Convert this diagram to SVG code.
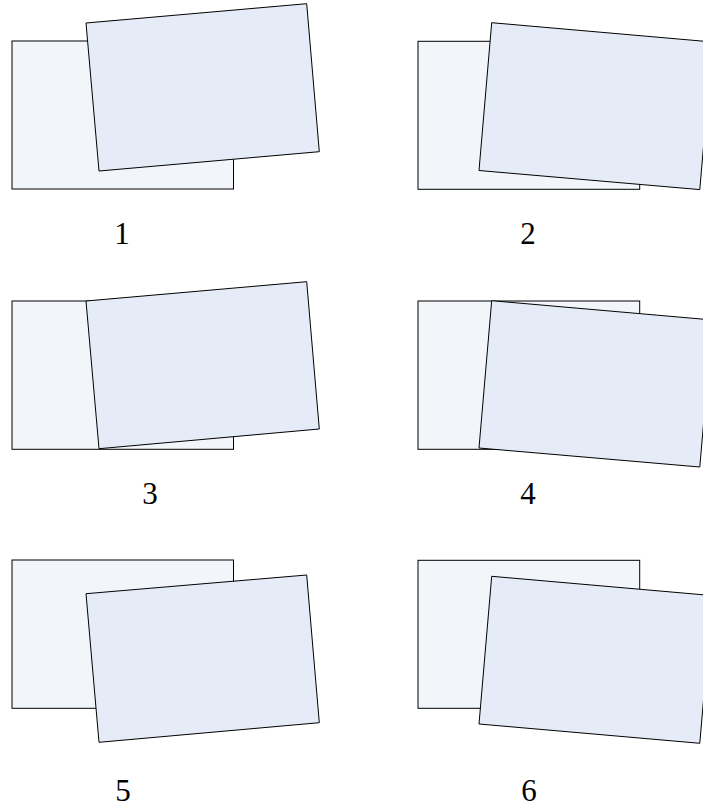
<svg xmlns="http://www.w3.org/2000/svg" width="703" height="809" viewBox="0 0 703 809">
<style>
.back{fill:#f2f6fb;stroke:#000;stroke-width:1}
.front{fill:#e5ecf7;stroke:#000;stroke-width:1}
.lbl{font-family:"Liberation Serif",serif;font-size:31px;fill:#000;text-anchor:middle}
</style>
<rect width="703" height="809" fill="#fff"/>
<g id="panel1">
<rect class="back" x="12" y="41" width="221.5" height="148"/>
<polygon class="front" points="86,23 306.7,3.7 319.3,151.7 99,171"/>
<text class="lbl" x="122" y="244">1</text>
</g>
<g id="panel2">
<rect class="back" x="418" y="41.3" width="221.7" height="148"/>
<polygon class="front" points="491.7,22.7 712.4,42 699.8,189.6 479,170.5"/>
<text class="lbl" x="528" y="244">2</text>
</g>
<g id="panel3">
<rect class="back" x="12" y="301" width="221.5" height="148.3"/>
<polygon class="front" points="86,301 306.7,281.7 319.3,429 99,448.7"/>
<text class="lbl" x="150" y="504">3</text>
</g>
<g id="panel4">
<rect class="back" x="418" y="301" width="221.7" height="148.3"/>
<polygon class="front" points="491.7,300.7 712.4,320 699.8,467 479,448"/>
<text class="lbl" x="528" y="504">4</text>
</g>
<g id="panel5">
<rect class="back" x="12" y="560" width="221.5" height="148.3"/>
<polygon class="front" points="86,593.7 306.7,575 319.3,722.7 99,742.3"/>
<text class="lbl" x="123" y="801">5</text>
</g>
<g id="panel6">
<rect class="back" x="418" y="560.3" width="221.7" height="148"/>
<polygon class="front" points="491.7,576.3 712.4,595.6 699.8,743.3 479,724"/>
<text class="lbl" x="529" y="801">6</text>
</g>
</svg>
